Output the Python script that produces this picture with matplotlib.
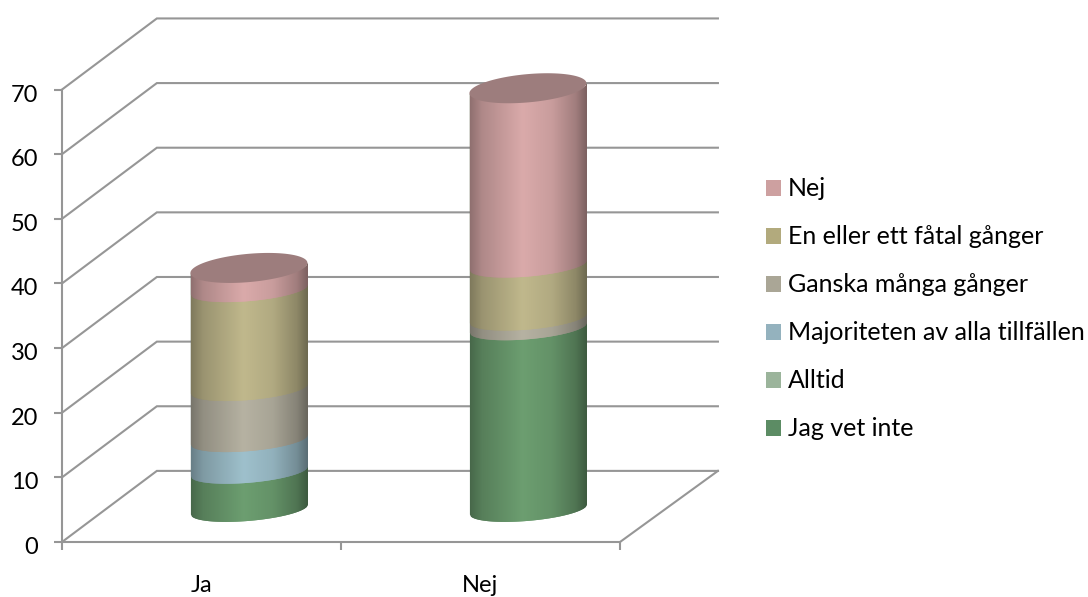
import numpy as np
import matplotlib
matplotlib.use("Agg")
import matplotlib.pyplot as plt
from matplotlib.patches import Patch, Polygon
from matplotlib.transforms import ScaledTranslation

plt.rcParams['font.family'] = ['Lato', 'DejaVu Sans']

categories = ["Ja", "Nej"]
y_ticks = [0, 10, 20, 30, 40, 50, 60, 70]

# stacked from the floor upwards
series_labels = ["Jag vet inte", "Alltid", "Majoriteten av alla tillfällen",
                 "Ganska många gånger", "En eller ett fåtal gånger", "Nej"]
jag_vet_inte = [5.9, 28.1]
alltid = [0.0, 0.0]
majoriteten = [4.9, 0.0]
ganska_manga = [7.9, 1.5]
en_eller_ett = [15.3, 8.2]
nej = [3.3, 27.3]

series_values = [jag_vet_inte, alltid, majoriteten, ganska_manga, en_eller_ett, nej]
body_colors = ["#6c9e70", "#9db89d", "#9ec0cc", "#b6b2a2", "#c0b88c", "#daaaaa"]
legend_colors = ["#5c8c64", "#9bb49b", "#94b2be", "#aaa696", "#b2aa7d", "#cda0a0"]
lid_color = "#9d7d7d"
grid_color = "#969696"

# depth of the fake 3D box and shape of the cylinders, in data units
DEPTH_X = 0.34
DEPTH_Y = 11.0
RIGHT_DEPTH_X = 0.351
BASE_OFFSET = 5.1
RADIUS_X = 0.2097
TILT = 0.77
RADIUS_Y = 1.75
LID_RADIUS_Y = 2.19


def front_edge(level, u):
    return level + TILT * u - RADIUS_Y * np.sqrt(np.clip(1 - u ** 2, 0, 1))


def shade(u):
    return np.interp(u, [-1, -0.8, -0.1, 0.4, 0.8, 1], [0.66, 0.8, 1.0, 0.92, 0.74, 0.56])


def draw_cylinder(ax, center, heights):
    u = np.linspace(-1, 1, 118)
    xs = center + RADIUS_X * u
    tops = BASE_OFFSET + np.cumsum(heights)
    bottoms = tops - np.array(heights)
    top_level = tops[-1]
    for low, height, color in zip(bottoms, heights, body_colors):
        if height == 0:
            continue
        rgb = np.array(matplotlib.colors.to_rgb(color))
        # each band is painted up to the lid, the next one goes over it
        for j in range(len(u) - 1):
            end = min(j + 2, len(u) - 1)
            seg = u[j:end + 1]
            ax.fill_between(xs[j:end + 1], front_edge(low, seg), front_edge(top_level, seg),
                            color=rgb * shade(u[j]), linewidth=0, zorder=3)
    t = np.linspace(0, 2 * np.pi, 200)
    lid = np.column_stack([center + RADIUS_X * np.cos(t),
                           top_level + TILT * np.cos(t) + LID_RADIUS_Y * np.sin(t)])
    ax.add_patch(Polygon(lid, closed=True, facecolor=lid_color, edgecolor="none", zorder=4))


fig = plt.figure(figsize=(10.88, 5.97), dpi=100)
# 279 px per category, 6.464 px per unit on the value axis
ax = fig.add_axes([62 / 1088, (597 - 542) / 597, 558 / 1088, 517.1 / 597])
ax.set_xlim(0, len(categories))
ax.set_ylim(0, 80)
ax.patch.set_alpha(0)

# walls and floor
for v in y_ticks:
    ax.plot([0, DEPTH_X, len(categories) + RIGHT_DEPTH_X], [v, v + DEPTH_Y, v + DEPTH_Y],
            color=grid_color, lw=1.5, clip_on=False, zorder=1, solid_joinstyle="miter")
ax.plot([len(categories), len(categories) + RIGHT_DEPTH_X], [0, DEPTH_Y], color=grid_color, lw=1.5,
        clip_on=False, zorder=1)

heights = np.array(series_values).T
for i, row in enumerate(heights):
    draw_cylinder(ax, i + 0.5 + DEPTH_X / 2, row)

ax.spines['top'].set_visible(False)
ax.spines['right'].set_visible(False)
for side in ['left', 'bottom']:
    ax.spines[side].set_color(grid_color)
    ax.spines[side].set_linewidth(1.5)
ax.spines['left'].set_bounds(0, 70)

ax.set_yticks(y_ticks)
ax.tick_params(axis='y', length=6, width=1.5, color=grid_color, labelsize=17, pad=11, labelcolor="black")
# the value labels sit a little under their ticks
nudge = ScaledTranslation(0, -3.5 / 100, fig.dpi_scale_trans)
for label in ax.get_yticklabels():
    label.set_transform(label.get_transform() + nudge)
ax.set_xticks(range(len(categories) + 1))
ax.set_xticklabels([])
ax.tick_params(axis='x', which='major', length=6, width=1.5, color=grid_color)
ax.set_xticks(np.arange(len(categories)) + 0.5, minor=True)
ax.set_xticklabels(categories, minor=True)
ax.tick_params(axis='x', which='minor', length=0, labelsize=17, pad=24, labelcolor="black")

handles = [Patch(facecolor=c, edgecolor="none", label=l) for c, l in zip(legend_colors, series_labels)]
fig.legend(handles=handles[::-1], loc="center left", bbox_to_anchor=(766 / 1088, 1 - 309 / 597), frameon=False,
           fontsize=18, handlelength=0.6, handleheight=0.6, handletextpad=0.28, labelspacing=1.0,
           borderpad=0, borderaxespad=0)

fig.savefig("out.png", dpi=100)
